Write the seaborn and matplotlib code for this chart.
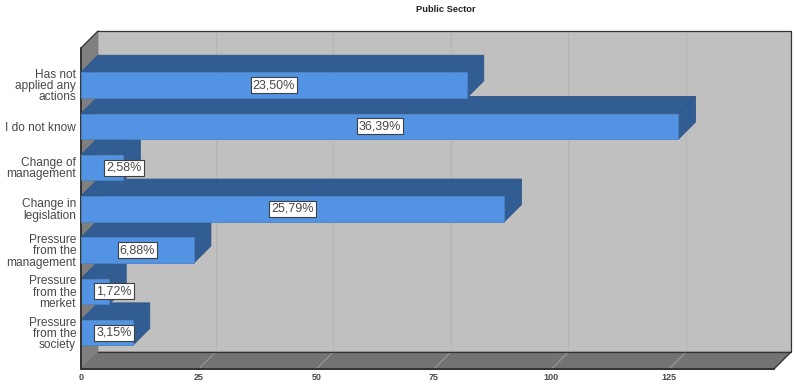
import matplotlib
matplotlib.use("Agg")
import matplotlib.pyplot as plt
import matplotlib.patches as mpatches
from matplotlib.transforms import Affine2D
import pandas as pd
import seaborn as sns

# Values
categories = ["Has not\napplied any\nactions", "I do not know", "Change of\nmanagement",
              "Change in\nlegislation", "Pressure\nfrom the\nmanagement",
              "Pressure\nfrom the\nmerket", "Pressure\nfrom the\nsociety"]
counts = [82, 127, 9, 90, 24, 6, 11]
pct_labels = ["23,50%", "36,39%", "2,58%", "25,79%", "6,88%", "1,72%", "3,15%"]
label_shift = [0, 0, 22, 0, 0, 19, 7]
x_ticks = [0, 25, 50, 75, 100, 125]

DEPTH = 17  # px offset of the back wall
X_MAX = 147.3
FRONT = "#5293e4"
DARK = "#325d93"
WALL = "#c0c0c0"
SIDE = "#7f7f7f"
FLOOR = "#737373"
LINE = "#333333"
TEXT = "#484848"

sns.set_theme(style="white")
plt.rcParams["font.family"] = ["Liberation Sans", "DejaVu Sans"]

W, H = 795, 385
fig = plt.figure(figsize=(W / 100, H / 100), dpi=100)
ax = fig.add_axes([81 / W, 1 - 369 / H, 693 / W, 321 / H])
ax.patch.set_alpha(0)

df = pd.DataFrame({"category": categories, "count": counts})
sns.barplot(data=df, y="category", x="count", order=categories, color=FRONT,
            saturation=1, width=0.62, ax=ax)
ax.set_xlim(0, X_MAX)
ax.set_ylim(6.88, -0.897)
ax.set_xlabel("")
ax.set_ylabel("")
sns.despine(ax=ax, left=True, bottom=True)

y_bot, y_top = ax.get_ylim()
back = ax.transData + Affine2D().translate(DEPTH, DEPTH)


def to_back(x, y):
    # data point -> data coords of the same point on the back plane
    return ax.transData.inverted().transform(back.transform((x, y)))


def poly(points, color, edge=None, z=1, lw=0.6):
    p = mpatches.Polygon(points, closed=True, facecolor=color, edgecolor=edge or color,
                         linewidth=lw, zorder=z, clip_on=False)
    ax.add_patch(p)


def line(xs, ys, color=LINE, lw=1.3, z=1.5):
    ax.plot(xs, ys, color=color, lw=lw, zorder=z, clip_on=False, solid_capstyle="round")


fl, ft = (0, y_bot), (0, y_top)
fr_b = (X_MAX, y_bot)
fr_t = (X_MAX, y_top)

# walls and floor
poly([to_back(*ft), to_back(*fr_t), to_back(*fr_b), to_back(*fl)], WALL)
poly([ft, to_back(*ft), to_back(*fl), fl], SIDE)
poly([fl, to_back(*fl), to_back(*fr_b), fr_b], FLOOR)

# grid on the wall and floor
for t in x_ticks[1:]:
    a, b, c = (t, y_bot), to_back(t, y_bot), to_back(t, y_top)
    line([a[0], b[0]], [a[1], b[1]], color="#a0a0a0", lw=0.7)
    line([b[0], c[0]], [b[1], c[1]], color="#b4b4b4", lw=0.7)

# frame lines, the back left edge has none
corners = [to_back(*ft), to_back(*fr_t), to_back(*fr_b), to_back(*fl)]
line([p[0] for p in corners], [p[1] for p in corners], lw=0.9)
line([0, 0], [y_bot, y_top], lw=1.4, z=8)
line([0, X_MAX], [y_bot, y_bot], lw=1.4)
line([0, to_back(*ft)[0]], [y_top, to_back(*ft)[1]], lw=0.9)
line([X_MAX, to_back(*fr_b)[0]], [y_bot, to_back(*fr_b)[1]], lw=0.9)

# 3D faces of the bars, upper bars sit on top of lower ones
for i, bar in enumerate(ax.patches[:len(categories)]):
    z = 10 - i * 0.5
    x1 = bar.get_width()
    top, bot = i - bar.get_height() / 2, i + bar.get_height() / 2
    poly([(0, top), (x1, top), to_back(x1, top), to_back(0, top)], DARK, edge="#2f5788", z=z)
    poly([(x1, top), (x1, bot), to_back(x1, bot), to_back(x1, top)], DARK, edge="#2f5788", z=z)
    bar.set_zorder(z + 0.1)
    bar.set_edgecolor("#4a82c6")
    bar.set_linewidth(0.6)
    ax.annotate(pct_labels[i], xy=(x1 / 2, i), xytext=(label_shift[i], 0),
                textcoords="offset pixels", ha="center", va="center",
                fontsize=9, color=TEXT, zorder=20, annotation_clip=False,
                bbox=dict(boxstyle="square,pad=0.16", facecolor="white",
                          edgecolor="#404040", linewidth=0.8))

ax.set_xticks(x_ticks)
ax.tick_params(axis="x", length=0, pad=3, labelsize=6.5, labelcolor=TEXT)
for lab in ax.get_xticklabels():
    lab.set_fontweight("bold")
ax.tick_params(axis="y", length=0, pad=3.5, labelsize=8.6, labelcolor=TEXT)
for lab in ax.get_yticklabels():
    lab.set_linespacing(0.92)
    lab.set_ha("right")
    lab.set_multialignment("right")

fig.text(446 / W, 1 - 9 / H, "Public Sector", ha="center", va="center",
         fontsize=6.7, fontweight="bold", color="#222222")

fig.savefig("out.png", dpi=100)
